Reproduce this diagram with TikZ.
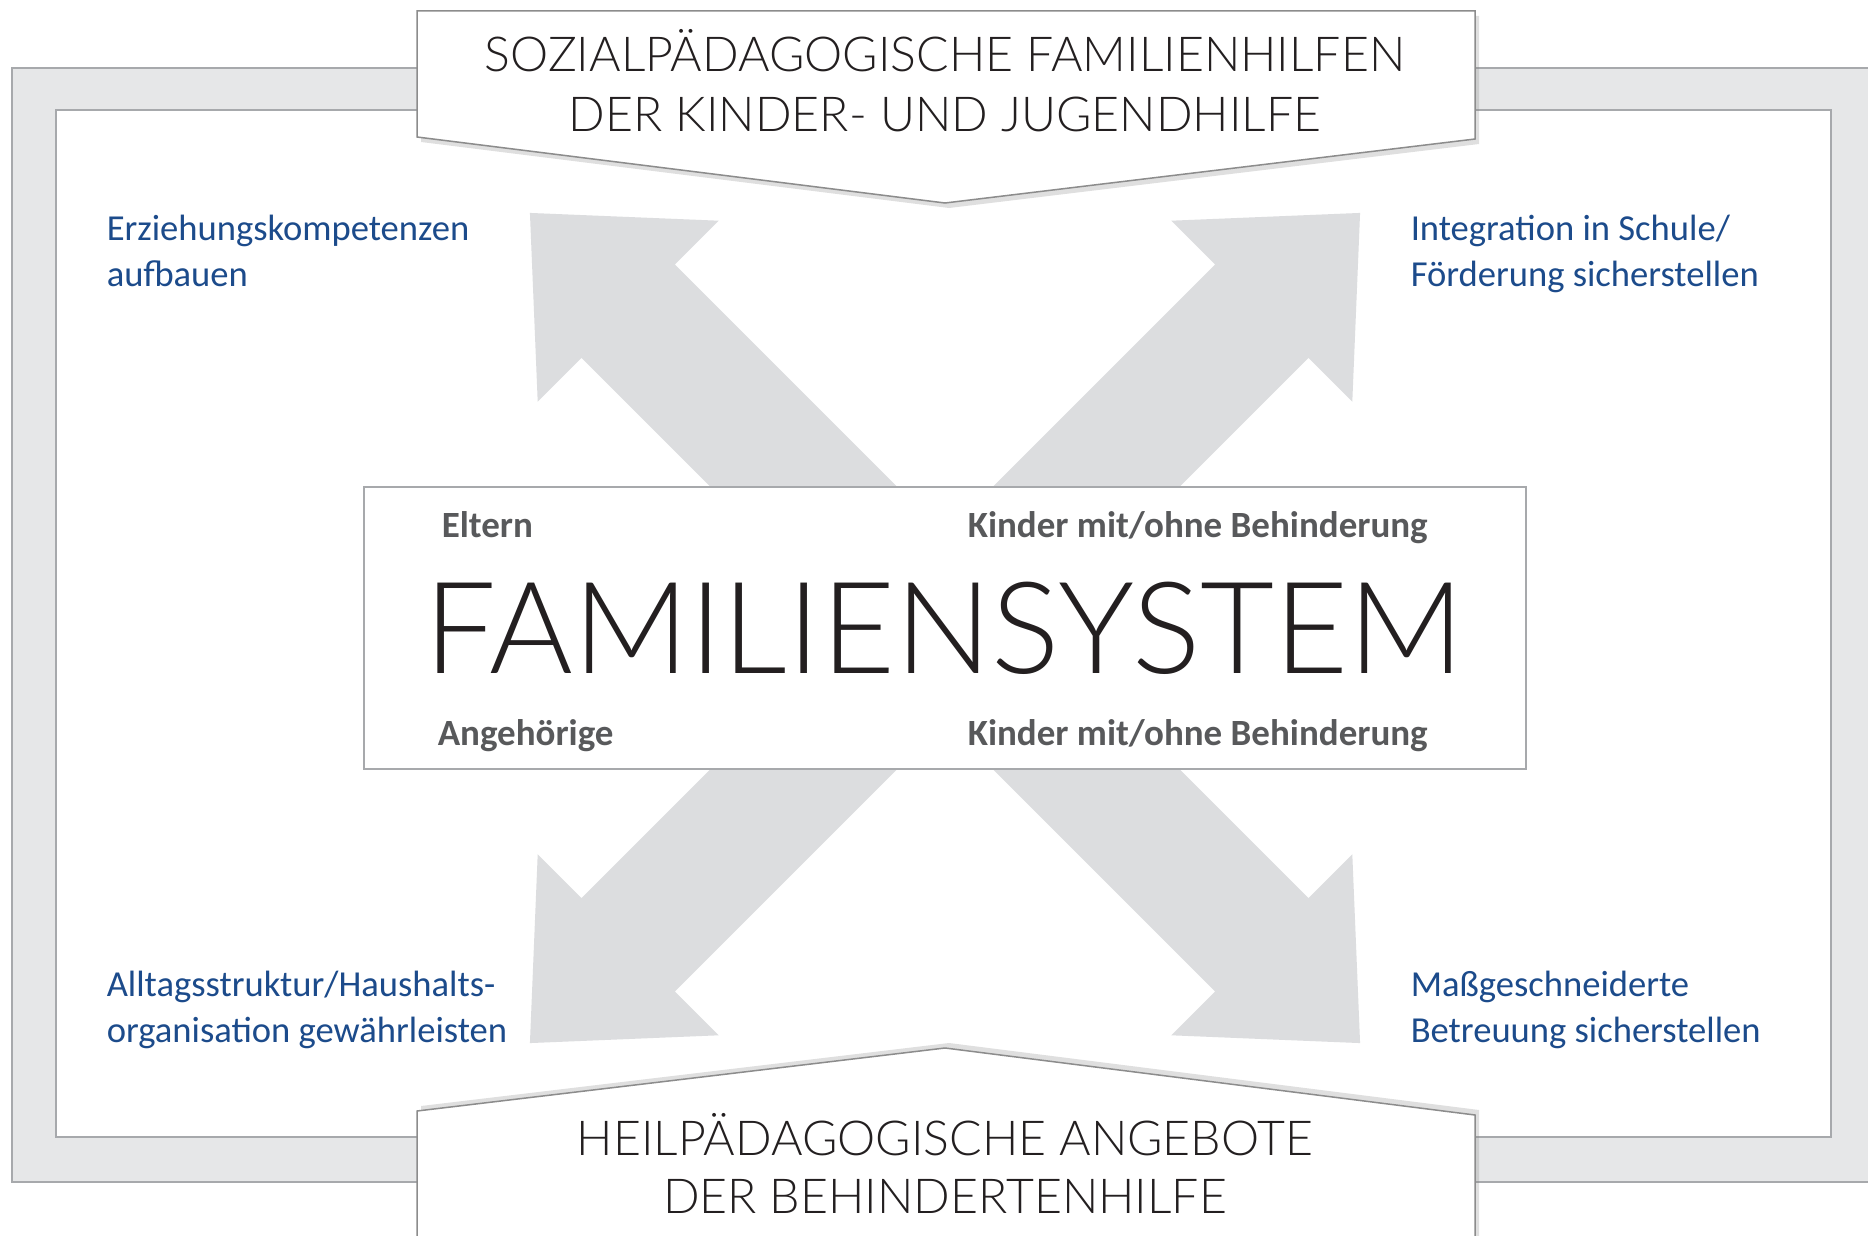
\documentclass[tikz,border=0pt]{standalone}
\usepackage{fontspec}
\setmainfont{Carlito}
\newfontfamily\lightfont{Lato Light}
\usetikzlibrary{shadows}

\definecolor{framegray}{RGB}{167,169,172}
\definecolor{bandgray}{RGB}{230,231,232}
\definecolor{arrowgray}{RGB}{220,221,223}
\definecolor{labelblue}{RGB}{28,75,139}
\definecolor{labelgray}{RGB}{88,89,91}
\definecolor{titleblack}{RGB}{35,31,32}

\tikzset{every picture/.style={line width=0.75pt}}
\tikzset{
  bluelabel/.style={anchor=base west, inner sep=0pt, text=labelblue, font=\fontsize{18.3}{22}\selectfont},
  graylabel/.style={anchor=base west, inner sep=0pt, text=labelgray, font=\fontsize{18.5}{22}\selectfont\bfseries},
  bannertext/.style={anchor=base, inner sep=0pt, text=titleblack, font=\lightfont\fontsize{24.1}{30}\selectfont},
  banner/.style={draw=black!45, line width=0.75pt, fill=white, drop shadow={shadow xshift=2pt, shadow yshift=#1, opacity=0.25}},
}

\begin{document}
\begin{tikzpicture}[x=0.5pt,y=0.5pt,yscale=-1,xscale=1]
\clip (0,0) rectangle (1868,1236);

%Shape: Frame
\draw [draw=framegray, fill=bandgray, line width=1pt] (12,68) rectangle (1900,1182);
\draw [draw=framegray, fill=white, line width=1pt] (56,110) rectangle (1831,1137);

%Shape: Arrows
\foreach \a in {45,135,225,315}
  \fill [arrowgray, shift={(945,628)}, rotate=\a] (0,66) -- (448,66) -- (448,128) -- (587,0) -- (448,-128) -- (448,-66) -- (0,-66) -- cycle;

% Text Node
\node (famsys) [draw=framegray, line width=1pt, fill=white, minimum width=581pt, minimum height=141pt, inner sep=0pt, text=titleblack, font=\lightfont\fontsize{63.9}{66}\selectfont] at (944.5,628) {FAMILIENSYSTEM};
\node (eltern) [graylabel] at (441,537) {Eltern};
\node (kinderoben) [graylabel] at (967,537) {Kinder mit/ohne Behinderung};
\node (angehoerige) [graylabel] at (437,745) {Angehörige};
\node (kinderunten) [graylabel] at (967,745) {Kinder mit/ohne Behinderung};

% Text Node
\node (erza) [bluelabel] at (106,240) {Erziehungskompetenzen};
\node (erzb) [bluelabel] at (106,286) {aufbauen};
\node (inta) [bluelabel] at (1410,240) {Integration in Schule/};
\node (intb) [bluelabel] at (1410,286) {Förderung sicherstellen};
\node (alla) [bluelabel] at (106,996) {Alltagsstruktur/Haushalts-};
\node (allb) [bluelabel] at (106,1042) {organisation gewährleisten};
\node (masa) [bluelabel] at (1410,996) {Maßgeschneiderte};
\node (masb) [bluelabel] at (1410,1042) {Betreuung sicherstellen};

%Shape: Banner top
\draw [banner=-2.5pt] (417,11) -- (1475,11) -- (1475,139) -- (945,203) -- (417,137) -- cycle;
\node (soza) [bannertext] at (945,72) {SOZIALPÄDAGOGISCHE FAMILIENHILFEN};
\node (sozb) [bannertext] at (945,132) {DER KINDER- UND JUGENDHILFE};

%Shape: Banner bottom
\draw [banner=2.5pt] (417,1111) -- (945,1048) -- (1475,1115) -- (1475,1260) -- (417,1260) -- cycle;
\node (heila) [bannertext] at (945,1155) {HEILPÄDAGOGISCHE ANGEBOTE};
\node (heilb) [bannertext] at (945,1213) {DER BEHINDERTENHILFE};

\end{tikzpicture}
\end{document}
